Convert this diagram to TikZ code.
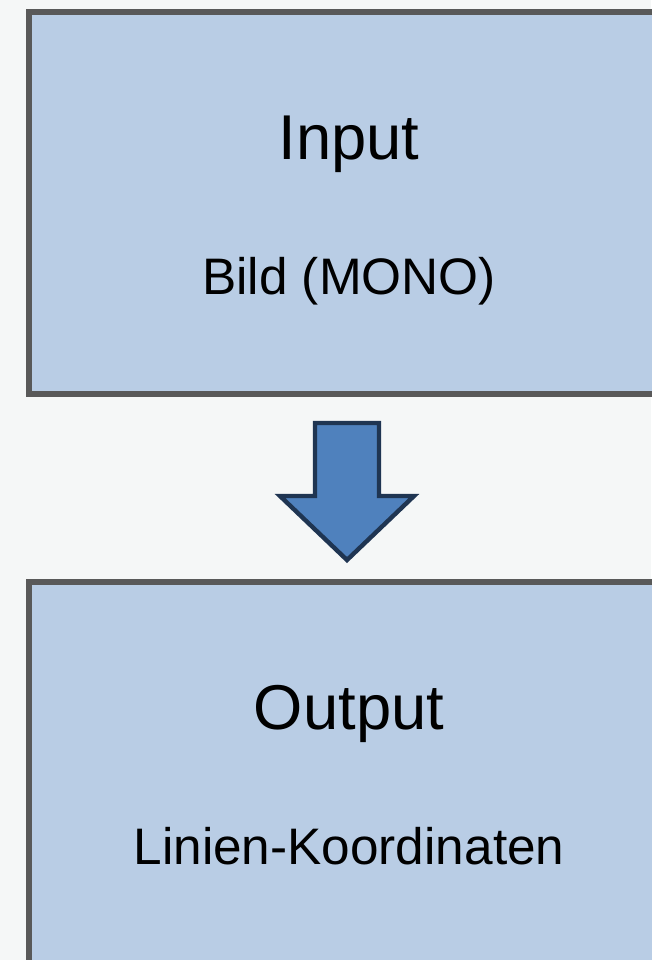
\documentclass[tikz,border=0pt]{standalone}
\usepackage{fontspec}
\setmainfont{Liberation Sans}
\usetikzlibrary{calc}
\definecolor{bgcol}{HTML}{F5F7F7}
\definecolor{boxfill}{HTML}{B9CDE5}
\definecolor{boxline}{HTML}{595959}
\definecolor{arrfill}{HTML}{4F81BD}
\definecolor{arrline}{HTML}{1F3552}
\tikzset{
  stage/.style={draw=boxline, fill=boxfill, line width=4.5pt, minimum width=480pt, minimum height=286.5pt, inner sep=0pt},
  headline/.style={anchor=base, font=\fontsize{47.5}{57}\selectfont},
  subline/.style={anchor=base, font=\fontsize{38.5}{46}\selectfont},
}
\begin{document}
\begin{tikzpicture}[x=0.75pt, y=-0.75pt]
\fill[bgcol] (0,0) rectangle (651,960);
\useasboundingbox (0,0) rectangle (651,960);
\node[stage] (inbox) at (349,203){};
\node[headline] (intitle) at ($(inbox.north)+(0,150)$){Input};
\node[subline] (insub) at ($(inbox.north)+(0,285)$){Bild (MONO)};
\node[stage] (outbox) at (349,773){};
\node[headline] (outtitle) at ($(outbox.north)+(0,150)$){Output};
\node[subline] (outsub) at ($(outbox.north)+(0,285)$){Linien-Koordinaten};
% Blockpfeil
\coordinate (flow) at (347,423);
\draw[draw=arrline, fill=arrfill, line width=3.3pt, line join=miter]
  ($(flow)+(-32,0)$) -- ($(flow)+(32,0)$) -- ($(flow)+(32,73)$) -- ($(flow)+(67,73)$)
  -- ($(flow)+(0,137)$) -- ($(flow)+(-67,73)$) -- ($(flow)+(-32,73)$) -- cycle;
\end{tikzpicture}
\end{document}
